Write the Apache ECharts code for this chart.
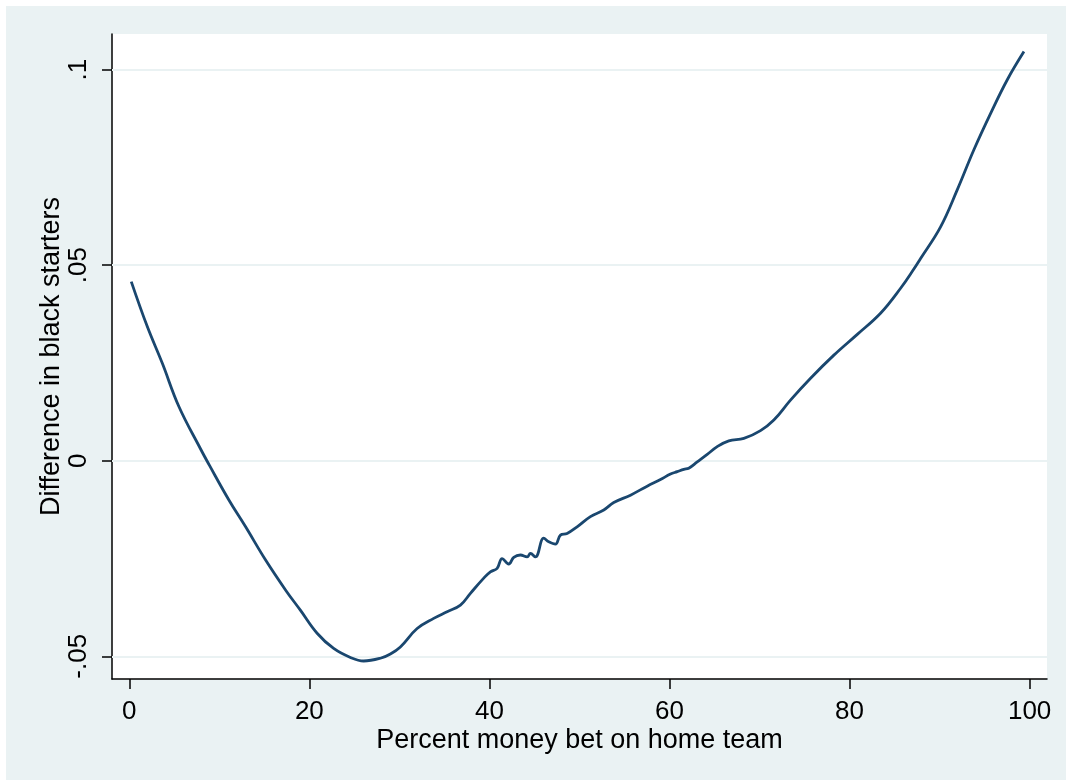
<!DOCTYPE html>
<html>
<head>
<meta charset="utf-8">
<script src="https://cdn.jsdelivr.net/npm/echarts@6/dist/echarts.min.js"></script>
<style>
html,body{margin:0;padding:0;background:#ffffff;}
#bg{position:absolute;left:6px;top:6px;width:1060px;height:774px;background:#eaf2f3;}
#chart{position:absolute;left:0;top:0;width:1066px;height:780px;}
</style>
</head>
<body>
<div id="bg"></div>
<div id="chart"></div>
<script>
// Percent money bet on home team (x) and difference in black starters (y)
const pctMoney = [0.22, 2.0, 3.67, 5.52, 7.92, 8.86, 11.08, 12.92, 15.14, 17.37, 19.0, 20.86, 22.7, 24.56, 26.03, 27.89, 29.0, 30.11, 31.97, 33.81, 35.3, 36.78, 37.89, 39.37, 40.11, 40.86, 41.41, 42.14, 42.7, 43.44, 44.19, 44.56, 45.11, 46.03, 46.59, 47.33, 47.89, 48.63, 49.74, 51.22, 52.7, 53.81, 55.67, 57.52, 59.0, 60.11, 60.86, 61.59, 62.14, 63.08, 64.19, 65.3, 66.59, 68.26, 70.11, 71.59, 73.44, 75.67, 78.26, 80.86, 83.44, 85.67, 87.14, 87.89, 90.11, 91.97, 93.81, 95.67, 97.52, 99.37];
const diffBlack = [0.0458, 0.0343, 0.0249, 0.0138, 0.0030, -0.0010, -0.0101, -0.0169, -0.0254, -0.0331, -0.0382, -0.0441, -0.0480, -0.0503, -0.0512, -0.0505, -0.0494, -0.0476, -0.0429, -0.0403, -0.0386, -0.0369, -0.0339, -0.0300, -0.0284, -0.0275, -0.0250, -0.0264, -0.0247, -0.0241, -0.0246, -0.0237, -0.0246, -0.0198, -0.0207, -0.0213, -0.0190, -0.0186, -0.0169, -0.0143, -0.0126, -0.0107, -0.0088, -0.0065, -0.0048, -0.0034, -0.0028, -0.0022, -0.0019, -0.0003, 0.0016, 0.0036, 0.0051, 0.0057, 0.0077, 0.0104, 0.0155, 0.0211, 0.0270, 0.0323, 0.0377, 0.0441, 0.0490, 0.0517, 0.0598, 0.0693, 0.0795, 0.0888, 0.0974, 0.1046];
const xTicks = [0, 20, 40, 60, 80, 100];
const yTicks = [-0.05, 0, 0.05, 0.1];
const yTickLabels = ['-.05', '0', '.05', '.1'];

const chart = echarts.init(document.getElementById('chart'), null, {renderer: 'canvas'});
const font = 'Liberation Sans, Arial, Helvetica, sans-serif';
const axisCol = '#000000';
const option = {
  animation: false,
  backgroundColor: 'transparent',
  grid: {left: 112, right: 19, top: 34, bottom: 101, show: true, backgroundColor: '#ffffff', borderWidth: 0},
  xAxis: {
    type: 'value', min: -1.92, max: 101.93,
    name: 'Percent money bet on home team', nameLocation: 'middle', nameGap: 48, nameMoveOverlap: false,
    nameTextStyle: {fontFamily: font, fontSize: 27, color: '#000'},
    axisLine: {show: true, onZero: false, lineStyle: {color: axisCol, width: 1.5}},
    axisTick: {show: true, length: 10, inside: false, customValues: xTicks, lineStyle: {color: axisCol, width: 1.5}},
    axisLabel: {customValues: xTicks, margin: 20, fontFamily: font, fontSize: 26, color: '#000'},
    splitLine: {show: false}
  },
  yAxis: {
    type: 'value', min: -0.0558, max: 0.1091,
    name: 'Difference in black starters', nameLocation: 'middle', nameGap: 47, nameRotate: 90, nameMoveOverlap: false,
    nameTextStyle: {fontFamily: font, fontSize: 27, color: '#000'},
    axisLine: {show: true, onZero: false, lineStyle: {color: axisCol, width: 1.5}},
    axisTick: {show: true, length: 10, inside: false, customValues: yTicks, lineStyle: {color: axisCol, width: 1.5}},
    axisLabel: {customValues: yTicks, rotate: 90, margin: 20, fontFamily: font, fontSize: 26, color: '#000',
      formatter: function (v) {
        for (let i = 0; i < yTicks.length; i++) { if (Math.abs(v - yTicks[i]) < 1e-9) return yTickLabels[i]; }
        return '';
      }},
    splitLine: {show: false}
  },
  series: [{
    type: 'line',
    data: pctMoney.map((x, i) => [x, diffBlack[i]]),
    showSymbol: false,
    smooth: 0.4,
    lineStyle: {color: '#1a476f', width: 2.8},
    z: 3,
    markLine: {
      silent: true, symbol: 'none', label: {show: false},
      lineStyle: {color: '#eaf2f3', width: 2, type: 'solid'},
      data: yTicks.map(v => ({yAxis: v})),
      z: 1
    }
  }]
};
chart.setOption(option);
</script>
</body>
</html>
